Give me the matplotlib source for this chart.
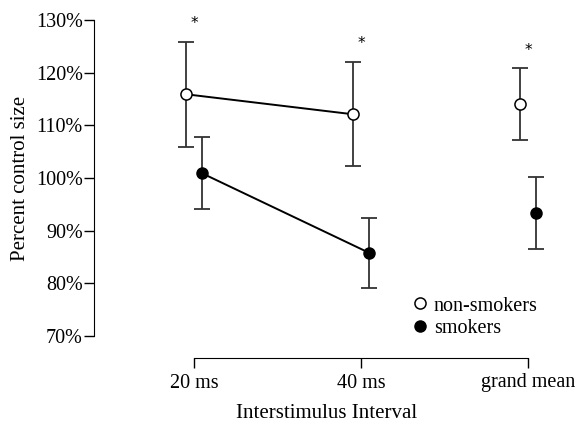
import numpy as np
import matplotlib.pyplot as plt
from matplotlib.lines import Line2D

plt.rcParams['font.family'] = ['Liberation Serif', 'DejaVu Serif']

# data (percent of control size)
conditions = ['20 ms', '40 ms', 'grand mean']
nonsmokers_mean = [115.9, 112.1, 114.1]
nonsmokers_err = [10.0, 9.9, 6.8]
smokers_mean = [100.9, 85.8, 93.4]
smokers_err = [6.8, 6.7, 6.8]
star_y = [129.4, 125.6, 124.2]

x = np.arange(len(conditions))
shift = 0.048

fig = plt.figure(figsize=(5.77, 4.25), dpi=100)
ax = fig.add_axes([94 / 577, (425 - 336) / 425, (560 - 94) / 577, 316 / 425])

err_kw = dict(ecolor='#333333', elinewidth=1.3, capsize=6, capthick=1.3, zorder=2)

# lines only connect the two ISI conditions, not the grand mean
ax.plot(x[:2] - shift, nonsmokers_mean[:2], color='black', lw=1.4, zorder=3)
ax.plot(x[:2] + shift, smokers_mean[:2], color='black', lw=1.4, zorder=3)

ax.errorbar(x - shift, nonsmokers_mean, yerr=nonsmokers_err, fmt='none', **err_kw)
ax.errorbar(x + shift, smokers_mean, yerr=smokers_err, fmt='none', **err_kw)
ax.plot(x - shift, nonsmokers_mean, 'o', ms=8, mfc='white', mec='black', mew=1.1, zorder=4)
ax.plot(x + shift, smokers_mean, 'o', ms=8, mfc='black', mec='black', zorder=4)

for xi, yi in zip(x, star_y):
    ax.text(xi, yi, '*', ha='center', va='center', fontsize=11, family='DejaVu Sans')

ax.set_xlim(-100 / 167, 2 + 32 / 167)
ax.set_ylim(70, 130)
ax.set_yticks(np.arange(70, 131, 10))
ax.set_yticklabels([f'{v}%' for v in range(70, 131, 10)])
ax.set_xticks(x)
ax.set_xticklabels(conditions)

for side in ['top', 'right']:
    ax.spines[side].set_visible(False)
ax.spines['bottom'].set_position(('outward', 16))
ax.spines['bottom'].set_bounds(0, 2)
ax.spines['left'].set_bounds(70, 130)
ax.tick_params(axis='y', length=7, width=1, labelsize=14.5, pad=1)
ax.tick_params(axis='x', length=7, width=1, labelsize=14.5, pad=4)

ax.set_ylabel('Percent control size', fontsize=15, labelpad=4)
ax.set_xlabel('Interstimulus Interval', fontsize=15, labelpad=8)

handles = [
    Line2D([], [], ls='none', marker='o', ms=8, mfc='white', mec='black', mew=1.1),
    Line2D([], [], ls='none', marker='o', ms=8, mfc='black', mec='black'),
]
ax.legend(handles, ['non-smokers', 'smokers'], loc='lower left',
          bbox_to_anchor=(0.66, -0.037), frameon=False, fontsize=14.5,
          handlelength=0.8, handletextpad=0.3, labelspacing=0.15, borderpad=0.0)

fig.savefig('out.png', dpi=100)
